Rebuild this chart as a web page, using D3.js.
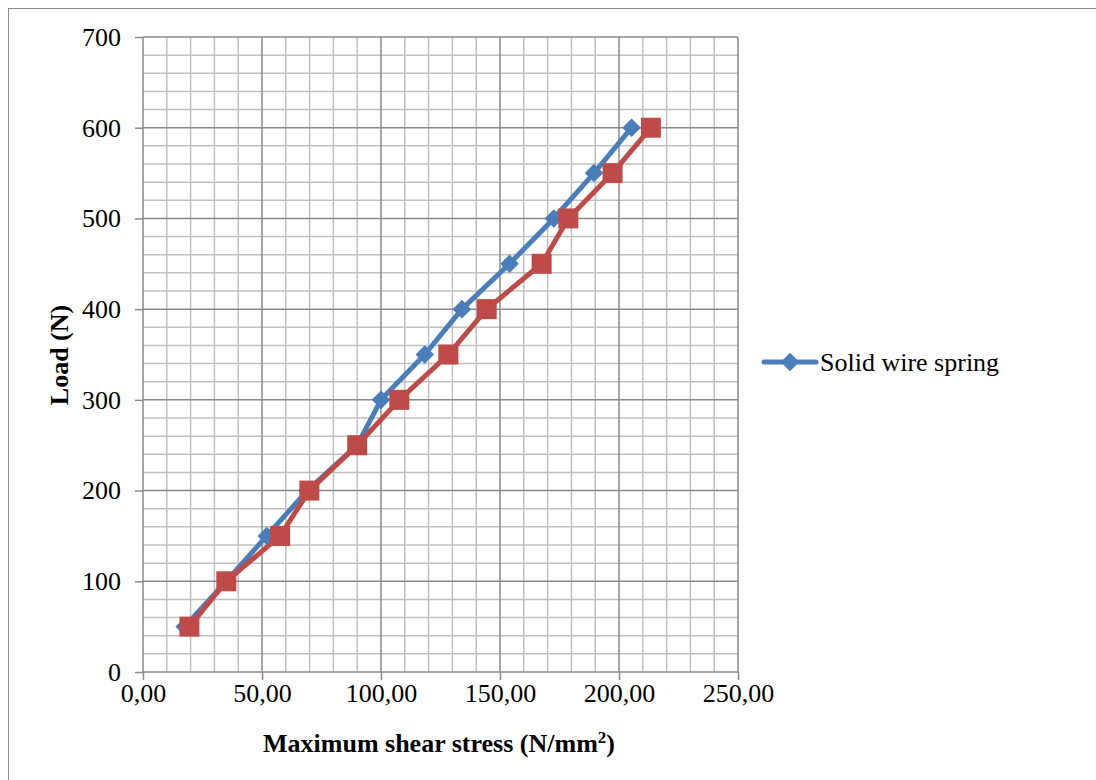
<!DOCTYPE html>
<html><head><meta charset="utf-8">
<script src="https://cdn.jsdelivr.net/npm/d3@7/dist/d3.min.js"></script>
<style>body{margin:0;background:#fff}svg{display:block}</style>
</head><body>
<svg id="c" width="1096" height="780"></svg>
<script>
const loads = [50,100,150,200,250,300,350,400,450,500,550,600];
const solidStress = [17.5,35,52,69,90,100,118.4,134,154,172.6,189.5,205.3];
const otherStress = [19.5,35,57.6,69.9,90,107.7,128.3,144.4,167.5,178.7,197.3,213.4];
const xTicks = [0,50,100,150,200,250];
const yTicks = [0,100,200,300,400,500,600,700];
const seriesNames = ["Solid wire spring", ""];

const svg = d3.select("#c");
const font = "'Liberation Serif','Times New Roman',serif";
const fs = 26;
// outer border
svg.append("rect").attr("x",8.5).attr("y",8.5).attr("width",1200).attr("height",900)
  .attr("fill","none").attr("stroke","#8c8c8c").attr("stroke-width",1);

const x = d3.scaleLinear().domain([0,250]).range([143,738]);
const y = d3.scaleLinear().domain([0,700]).range([672,37]);

const g = svg.append("g");
// minor grid
d3.range(0,251,10).forEach(v=>{ if(v%50) g.append("line").attr("x1",x(v)).attr("x2",x(v)).attr("y1",y(0)).attr("y2",y(700)).attr("stroke","#c0c0c0").attr("stroke-width",1.5);});
d3.range(0,701,20).forEach(v=>{ if(v%100) g.append("line").attr("y1",y(v)).attr("y2",y(v)).attr("x1",x(0)).attr("x2",x(250)).attr("stroke","#c0c0c0").attr("stroke-width",1.5);});
// major grid
xTicks.forEach(v=>g.append("line").attr("x1",x(v)).attr("x2",x(v)).attr("y1",y(0)).attr("y2",y(700)).attr("stroke","#8a8a8a").attr("stroke-width",1.5));
yTicks.forEach(v=>g.append("line").attr("y1",y(v)).attr("y2",y(v)).attr("x1",x(0)).attr("x2",x(250)).attr("stroke","#8a8a8a").attr("stroke-width",1.5));

// axes
const xa = svg.append("g").attr("transform",`translate(0,${y(0)})`)
  .call(d3.axisBottom(x).tickValues(xTicks).tickSize(8).tickPadding(4).tickFormat(d=>d3.format(".2f")(d).replace(".",",")));
const ya = svg.append("g").attr("transform",`translate(${x(0)},0)`)
  .call(d3.axisLeft(y).tickValues(yTicks).tickSize(8).tickPadding(14));
[xa,ya].forEach(a=>{
  a.attr("font-size",fs).attr("font-family",font);
  a.selectAll("path,line").attr("stroke","#8a8a8a").attr("stroke-width",1.5);
  a.selectAll("text").attr("font-family",font).attr("font-size",fs).attr("fill","#000");
});
xa.select(".domain").remove(); ya.select(".domain").remove();

// series
const line = d3.line().x(d=>x(d[0])).y(d=>y(d[1]));
const solid = solidStress.map((s,i)=>[s,loads[i]]);
const other = otherStress.map((s,i)=>[s,loads[i]]);
svg.append("path").datum(solid).attr("d",line).attr("fill","none").attr("stroke","#4a7ebb").attr("stroke-width",5).attr("stroke-linejoin","round");
svg.selectAll(".dm").data(solid).enter().append("path")
  .attr("d",d3.symbol(d3.symbolDiamond2,220)())
  .attr("transform",d=>`translate(${x(d[0])},${y(d[1])})`).attr("fill","#4a7ebb");
svg.append("path").datum(other).attr("d",line).attr("fill","none").attr("stroke","#be4b48").attr("stroke-width",5).attr("stroke-linejoin","round");
svg.selectAll(".sq").data(other).enter().append("rect")
  .attr("x",d=>x(d[0])-10).attr("y",d=>y(d[1])-10).attr("width",20).attr("height",20).attr("fill","#be4b48");

// axis titles
svg.append("text").attr("x",439).attr("y",752).attr("text-anchor","middle")
  .attr("font-family",font).attr("font-size",fs).attr("font-weight","bold")
  .html("Maximum shear stress (N/mm<tspan dy='-9' font-size='17'>2</tspan><tspan dy='9'>)</tspan>");
svg.append("text").attr("transform","translate(68,355) rotate(-90)").attr("text-anchor","middle")
  .attr("font-family",font).attr("font-size",fs).attr("font-weight","bold").text("Load (N)");

// legend
const lg = svg.append("g").attr("transform","translate(764,362)");
lg.append("line").attr("x1",0).attr("x2",52).attr("stroke","#4a7ebb").attr("stroke-width",5).attr("stroke-linecap","round");
lg.append("path").attr("d",d3.symbol(d3.symbolDiamond2,220)()).attr("transform","translate(26,0)").attr("fill","#4a7ebb");
lg.append("text").attr("x",56).attr("y",9).attr("font-family",font).attr("font-size",fs).text(seriesNames[0]);
</script>
</body></html>
